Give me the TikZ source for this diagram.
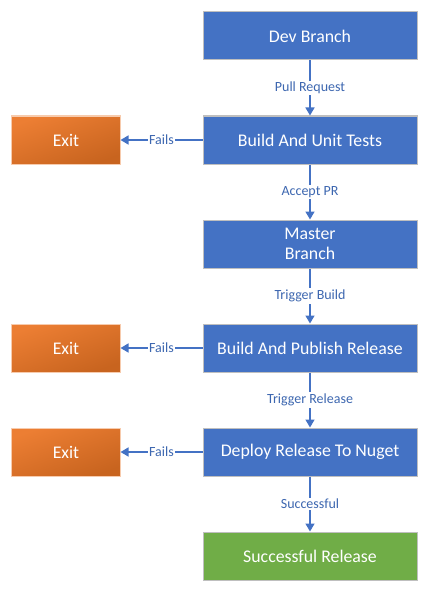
\documentclass[tikz,border=0pt]{standalone}
\usepackage{fontspec}
\setmainfont{Carlito}
\usetikzlibrary{positioning,arrows.meta}
\definecolor{flowblue}{HTML}{4472C4}
\definecolor{flowgreen}{HTML}{70AD47}
\definecolor{exitlight}{HTML}{EC7E33}
\definecolor{exitdark}{HTML}{C8641F}
\definecolor{edgegray}{HTML}{BFBFBF}

\tikzset{
    stage/.style={draw=edgegray, line width=1bp, fill=flowblue, text=white,
        minimum width=214bp, minimum height=48bp, inner sep=0pt, align=center,
        font=\fontsize{17.8bp}{20bp}\selectfont},
    done/.style={stage, fill=flowgreen},
    exitbox/.style={draw=exitlight!40, line width=1bp, text=white,
        top color=exitlight, bottom color=exitdark, shading angle=20,
        minimum width=108bp, minimum height=48bp, inner sep=0pt,
        font=\fontsize{17.8bp}{20bp}\selectfont},
    flow/.style={draw=flowblue, line width=1.5bp, -{Triangle[width=9bp,length=8bp]}},
    lbl/.style={fill=white, text=flowblue!90!black, inner sep=1.5bp,
        font=\fontsize{14bp}{16bp}\selectfont}
}

\begin{document}
\begin{tikzpicture}[x=1bp, y=-1bp, node distance=55bp]
    \useasboundingbox (0,0) rectangle (436,591);

    % main column
    \node[stage] (dev) at (310,36) {Dev Branch};
    \node[stage, below=of dev] (unit) {Build And Unit Tests};
    \node[stage, below=of unit] (master) {Master\\Branch};
    \node[stage, below=of master] (publish) {Build And Publish Release};
    \node[stage, below=of publish] (deploy) {Deploy Release To Nuget};
    \node[done, below=of deploy] (release) {Successful Release};

    % exits
    \node[exitbox, left=82bp of unit] (exitA) {Exit};
    \node[exitbox, left=82bp of publish] (exitB) {Exit};
    \node[exitbox, left=82bp of deploy] (exitC) {Exit};

    % connectors
    \draw[flow] (dev) -- node[lbl] {Pull Request} (unit);
    \draw[flow] (unit) -- node[lbl] {Accept PR} (master);
    \draw[flow] (master) -- node[lbl] {Trigger Build} (publish);
    \draw[flow] (publish) -- node[lbl] {Trigger Release} (deploy);
    \draw[flow] (deploy) -- node[lbl] {Successful} (release);

    \draw[flow] (unit) -- node[lbl] {Fails} (exitA);
    \draw[flow] (publish) -- node[lbl] {Fails} (exitB);
    \draw[flow] (deploy) -- node[lbl] {Fails} (exitC);
\end{tikzpicture}
\end{document}
